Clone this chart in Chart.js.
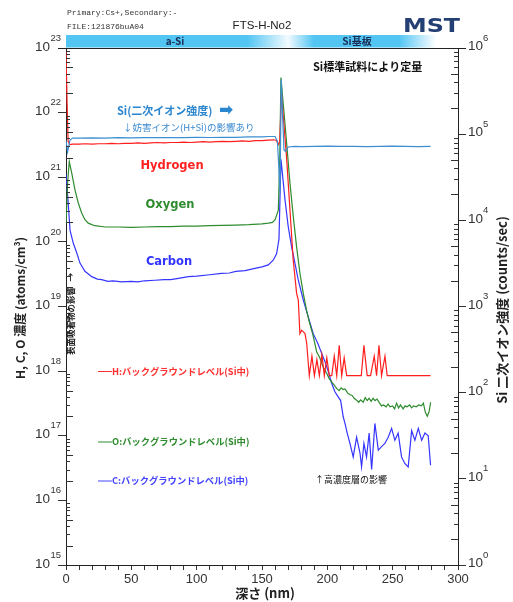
<!DOCTYPE html>
<html><head><meta charset="utf-8">
<script src="https://cdn.jsdelivr.net/npm/chart.js@4/dist/chart.umd.min.js"></script>
<style>html,body{margin:0;padding:0;background:#fff;}canvas{display:block;}</style>
</head><body>
<canvas id="c" width="513" height="602"></canvas>
<script>
// ---------- data (depth in nm, concentration in atoms/cm3, Si in counts/sec) ----------
const hDepth = [0,0.8,1.6,3,5,10,15,20,25,30,35,40,45,50,55,60,65,70,75,80,85,90,95,100,105,110,115,120,125,130,135,140,145,150,155,159,161,162.5,163.6,164.9,
  168.9,171.4,173.9,176.5,177.8,179,180.3,182.9,184.2,186.2,188.2,190.1,192,193.9,195.8,197.7,199.6,201.5,203.4,205.3,207.2,209.1,211,212.9,214.8,218,222,226,228,230.5,233.1,235.9,237.7,239.5,241.5,244.1,245.8,250,260,270,279];
const hConc = [9e22,1.5e22,3.6e21,3.2e21,3.25e21,3.25e21,3.3e21,3.25e21,3.3e21,3.3e21,3.35e21,3.3e21,3.35e21,3.35e21,3.4e21,3.35e21,3.4e21,3.45e21,3.4e21,3.45e21,3.45e21,3.5e21,3.45e21,3.5e21,3.55e21,3.5e21,3.55e21,3.6e21,3.55e21,3.6e21,3.65e21,3.6e21,3.7e21,3.7e21,3.75e21,3.8e21,3.7e21,3.2e21,3.6e21,2.0e22,
  1.9e21,3.1e20,5.2e19,1.6e19,1.25e19,3.8e18,4.3e18,3.8e18,2.7e18,8.5e17,1.7e18,8.5e17,1.5e18,8.5e17,1.8e18,8.5e17,1.6e18,8.5e17,8.5e17,1.7e18,8.5e17,2.5e18,8.5e17,1.6e18,8.5e17,8.5e17,8.5e17,8.5e17,2.5e18,8.5e17,8.5e17,1.7e18,8.5e17,2.5e18,8.5e17,1.7e18,8.5e17,8.5e17,8.5e17,8.5e17,8.5e17];

const oDepth = [0,1.2,2.5,4.4,6.9,9.4,12,14.5,17,22,30,40,50,60,70,80,90,100,110,120,130,140,150,155,158,160,162.5,163.6,164.5,168.9,171.4,173.9,176.5,
  179,181.6,184.2,186.5,189,191.8,194.3,196.9,199.5,201.5,203.3,205,207.1,209,210.5,212,213.5,215.5,217.3,219,220.5,222.4,224,225.5,227.5,229,230.5,232,233.5,235,236.5,238,240,241.5,243,245,246.5,248,250,251.5,253,254.5,256,258,259.5,261,263,264.5,266,268,270,272,273.5,275,276.5,278,279];
const oConc = [1.9e20,8e20,1.75e21,1.16e21,6.3e20,4.0e20,2.8e20,2.2e20,1.95e20,1.78e20,1.7e20,1.7e20,1.68e20,1.7e20,1.72e20,1.72e20,1.75e20,1.75e20,1.78e20,1.8e20,1.82e20,1.85e20,1.9e20,1.95e20,2.0e20,2.2e20,3.1e20,2e21,3.5e22,3.3e21,8.1e20,2.5e20,8.3e19,
  3.3e19,1.6e19,8.5e18,5.5e18,3.6e18,2.0e18,1.6e18,1.15e18,9.3e17,7.6e17,6.8e17,6.2e17,5.4e17,5.0e17,5.5e17,5.2e17,5.3e17,4.6e17,4.3e17,4.2e17,3.8e17,3.55e17,3.3e17,3.6e17,3.3e17,3.9e17,3.5e17,3.8e17,3.4e17,3.8e17,3.5e17,3.7e17,3.2e17,2.9e17,3.0e17,2.8e17,3.1e17,2.8e17,2.9e17,2.6e17,3.2e17,2.7e17,3.0e17,2.6e17,2.9e17,2.8e17,3.0e17,2.7e17,2.9e17,2.8e17,3.0e17,2.9e17,3.2e17,2.3e17,2.0e17,2.4e17,3.3e17];

const cDepth = [0,1.2,3.1,5.6,8.2,10.7,14.5,19.7,24,27.3,32,36,42.6,50,55,60,68,75,80,85,93.6,100,110,119,125,130,137,144.6,150,154.8,158.6,161.2,163,164.5,167.6,
  170.1,172.7,175.2,177.7,181.6,185.4,189.2,193,195.6,198.2,201,203.3,205.8,208.3,210.2,212.2,213.7,215.2,217.3,219.8,222.4,225,226.2,228,230,232,233.9,236.4,239,241.5,244,246.6,249.2,251.7,254.2,256.8,259.4,261.9,264.5,267,269.6,272.2,274.7,277.2,279];
const cConc = [1.1e21,5.5e20,1.5e20,9.5e19,6.8e19,4.7e19,3.5e19,2.9e19,2.65e19,2.6e19,2.45e19,2.5e19,2.4e19,2.45e19,2.4e19,2.5e19,2.55e19,2.6e19,2.6e19,2.7e19,2.9e19,2.95e19,3.1e19,3.25e19,3.3e19,3.5e19,3.6e19,3.9e19,4.1e19,4.4e19,5.2e19,6.6e19,1.1e20,1.9e21,4.5e20,
  1.7e20,8.3e19,4.7e19,2.6e19,1.26e19,6.9e18,3.8e18,2.6e18,1.9e18,1.4e18,9.5e17,6.5e17,4.8e17,4.0e17,3.5e17,1.95e17,1.5e17,1.1e17,7.6e16,4.7e16,9.5e16,5.4e16,3.3e16,7.6e16,4.7e16,1.1e17,3.0e16,1.55e17,6.0e16,6.8e16,7.6e16,9.5e16,1.3e17,8.5e16,1.1e17,4.7e16,3.7e16,3.3e16,1.2e17,8.5e16,1.3e17,8.5e16,1.1e17,1.0e17,3.5e16];

const siDepth = [0,1.2,3,5,10,20,30,40,50,60,70,80,90,100,110,120,130,140,150,155,160,161.8,163,163.8,164.7,166.8,168,170,175,180,190,200,210,220,230,240,250,260,270,279];
const siCps = [8.5e4,6.2e4,8.5e4,9.0e4,9.0e4,9.05e4,9.0e4,9.1e4,9.05e4,9.1e4,9.1e4,9.15e4,9.1e4,9.2e4,9.15e4,9.2e4,9.2e4,9.3e4,9.3e4,9.4e4,9.4e4,8.3e4,3.8e4,2.1e4,4.3e5,6.6e4,6.3e4,7.1e4,7.2e4,7.15e4,7.2e4,7.25e4,7.2e4,7.2e4,7.15e4,7.2e4,7.25e4,7.2e4,7.15e4,7.2e4];

const xTickLabels = ['0','50','100','150','200','250','300'];
const leftExp = [15,16,17,18,19,20,21,22,23];
const rightExp = [0,1,2,3,4,5,6];

// ---------- helpers ----------
const JP = '"Noto Sans CJK JP","Noto Sans",sans-serif';
const SANS = '"Liberation Sans",Arial,sans-serif';
const MONO = '"Liberation Mono","DejaVu Sans Mono",monospace';
function pts(xs, ys){ return xs.map((x,i)=>({x:x, y:ys[i]})); }
function logTicks(exps){
  const t=[];
  for(let i=0;i<exps.length-1;i++){ for(let k=1;k<=9;k++){ t.push({value:Number(k+'e'+exps[i])}); } }
  t.push({value:Number('1e'+exps[exps.length-1])});
  return t;
}
function sig(v){ const e=Math.floor(Math.log10(v)+1e-9); return Math.round(v/Math.pow(10,e)); }
const W=513,H=602,LEFT=66,RIGHT=458,TOP=48,BOTTOM=565;

const decor = {
  id:'decor',
  afterDraw(chart){
    const ctx=chart.ctx, ca=chart.chartArea, yL=chart.scales.y, yR=chart.scales.y2;
    ctx.save();
    ctx.strokeStyle='#222'; ctx.lineWidth=1;
    // top frame
    ctx.beginPath(); ctx.moveTo(ca.left-8, Math.round(ca.top)+0.5); ctx.lineTo(ca.right+8, Math.round(ca.top)+0.5); ctx.stroke();
    // inward minor ticks
    ctx.strokeStyle='#333';
    const minor=(scale,x0,dir)=>{
      scale.ticks.forEach(t=>{
        const k=sig(t.value); if(k===1) return;
        const len=(k===2||k===5)?7:4;
        const p=Math.round(scale.getPixelForValue(t.value))+0.5;
        ctx.beginPath(); ctx.moveTo(x0,p); ctx.lineTo(x0+dir*len,p); ctx.stroke();
      });
    };
    minor(yL, ca.left, 1); minor(yR, ca.right, -1);
    // power-of-ten labels
    ctx.fillStyle='#333'; ctx.textBaseline='middle';
    leftExp.forEach(e=>{
      const p=yL.getPixelForValue(Number('1e'+e));
      ctx.font='13.5px '+SANS; ctx.textAlign='right'; ctx.fillText('10',50,p-1);
      ctx.font='9.5px '+SANS; ctx.textAlign='left'; ctx.fillText(String(e),50.5,p-10);
    });
    rightExp.forEach(e=>{
      const p=yR.getPixelForValue(Number('1e'+e));
      ctx.font='13.5px '+SANS; ctx.textAlign='left'; ctx.fillText('10',468,p-1.5);
      ctx.font='9.5px '+SANS; ctx.fillText(String(e),483,p-10);
    });
    // axis titles
    ctx.fillStyle='#222'; ctx.textAlign='center';
    ctx.save(); ctx.translate(20,308); ctx.rotate(-Math.PI/2);
    ctx.font='bold 12px '+JP; ctx.fillText('H, C, O 濃度 (atoms/cm³)',0,0); ctx.restore();
    ctx.save(); ctx.translate(502,310); ctx.rotate(-Math.PI/2);
    ctx.font='bold 13px '+JP; ctx.fillText('Si 二次イオン強度 (counts/sec)',0,0); ctx.restore();
    ctx.font='bold 13px '+JP; ctx.fillText('深さ (nm)',265,593);
    // header
    ctx.textAlign='left'; ctx.fillStyle='#333';
    ctx.font='8px '+MONO; ctx.fillText('Primary:Cs+,Secondary:-',67,13); ctx.fillText('FILE:121876buA04',67,26.5);
    ctx.textAlign='center'; ctx.font='11.5px '+SANS; ctx.fillStyle='#222'; ctx.fillText('FTS-H-No2',262,26);
    ctx.save(); ctx.translate(403,32); ctx.scale(1.19,1); ctx.textAlign='left'; ctx.textBaseline='alphabetic';
    ctx.font='bold 20px "DejaVu Sans",sans-serif'; ctx.fillStyle='#233f73'; ctx.fillText('MST',0,0); ctx.restore();
    // layer bar
    const g=ctx.createLinearGradient(66,0,436,0);
    g.addColorStop(0,'#52c5f3'); g.addColorStop(0.49,'#52c5f3'); g.addColorStop(0.6,'#f2faff');
    g.addColorStop(0.67,'#52c5f3'); g.addColorStop(0.9,'#52c5f3'); g.addColorStop(1,'#ffffff');
    ctx.fillStyle=g; ctx.fillRect(66,35,370,12.5);
    ctx.fillStyle='#1b2d55'; ctx.font='bold 10px '+JP; ctx.textAlign='center';
    ctx.fillText('a-Si',175,41.5); ctx.fillText('Si基板',357,41.5);
    // annotations
    ctx.textAlign='left';
    ctx.fillStyle='#2a86cf'; ctx.font='bold 11px '+JP; ctx.fillText('Si(二次イオン強度)',117,111);
    ctx.font='bold 17px "DejaVu Sans",sans-serif'; ctx.fillText('➡',219,111);
    ctx.fillStyle='#3a8ad0'; ctx.font='9.5px '+JP; ctx.fillText('↓妨害イオン(H+Si)の影響あり',123,127);
    ctx.fillStyle='#111'; ctx.font='bold 11px '+JP; ctx.fillText('Si標準試料により定量',313,67);
    ctx.textAlign='center'; ctx.font='bold 11.5px "DejaVu Sans",sans-serif';
    ctx.fillStyle='#ff2020'; ctx.fillText('Hydrogen',172,166);
    ctx.fillStyle='#2e8b2e'; ctx.fillText('Oxygen',170,205);
    ctx.fillStyle='#3333ff'; ctx.fillText('Carbon',169,262);
    // background level labels
    const bg=(col,y,txt)=>{
      ctx.strokeStyle=col; ctx.beginPath(); ctx.moveTo(98,y+0.5); ctx.lineTo(112,y+0.5); ctx.stroke();
      ctx.fillStyle=col; ctx.textAlign='left'; ctx.font='bold 9.3px '+JP; ctx.fillText(txt,112,y);
    };
    bg('#ff3030',371,'H:バックグラウンドレベル(Si中)');
    bg('#2e8b2e',441.5,'O:バックグラウンドレベル(Si中)');
    bg('#4444ff',480.5,'C:バックグラウンドレベル(Si中)');
    ctx.fillStyle='#111'; ctx.font='9px '+JP; ctx.textAlign='left'; ctx.fillText('↑高濃度層の影響',315,480);
    // surface adsorbate note
    ctx.fillStyle='#222'; ctx.textAlign='center'; ctx.font='bold 9px '+JP; ctx.fillText('↑',70.5,278);
    ctx.save(); ctx.translate(70.5,321); ctx.rotate(-Math.PI/2); ctx.font='bold 8.5px '+JP;
    ctx.fillText('表面吸着物の影響',0,0); ctx.restore();
    ctx.restore();
  }
};

new Chart(document.getElementById('c').getContext('2d'), {
  type:'line',
  data:{datasets:[
    {label:'Si', data:pts(siDepth,siCps), yAxisID:'y2', borderColor:'#3d8fd1', borderWidth:1.2, pointRadius:0, tension:0},
    {label:'Hydrogen', data:pts(hDepth,hConc), yAxisID:'y', borderColor:'#ff1e1e', borderWidth:1.2, pointRadius:0, tension:0},
    {label:'Oxygen', data:pts(oDepth,oConc), yAxisID:'y', borderColor:'#2e8b2e', borderWidth:1.2, pointRadius:0, tension:0},
    {label:'Carbon', data:pts(cDepth,cConc), yAxisID:'y', borderColor:'#3535ff', borderWidth:1.2, pointRadius:0, tension:0}
  ]},
  options:{
    responsive:false, animation:false, devicePixelRatio:1,
    layout:{padding:{top:TOP,left:0,right:0,bottom:0}},
    plugins:{legend:{display:false}, tooltip:{enabled:false}, title:{display:false}},
    scales:{
      x:{type:'linear', position:'bottom', min:0, max:300,
        afterFit(s){ s.height=H-BOTTOM; },
        ticks:{stepSize:10, autoSkip:false, maxRotation:0, padding:2, color:'#333',
          font:{family:'Liberation Sans', size:13},
          callback:(v)=>{ const s=String(v); return xTickLabels.includes(s)?s:''; }},
        grid:{drawOnChartArea:false, tickLength:5, tickColor:'#333'},
        border:{color:'#222', width:1}},
      y:{type:'logarithmic', position:'left', min:1e15, max:1e23,
        afterFit(s){ s.width=LEFT; },
        afterBuildTicks(s){ s.ticks=logTicks(leftExp); },
        ticks:{display:false},
        grid:{drawOnChartArea:false, tickLength:8, tickColor:(c)=> (c.tick && sig(c.tick.value)===1)?'#333':'rgba(0,0,0,0)'},
        border:{color:'#222', width:1}},
      y2:{type:'logarithmic', position:'right', min:1, max:1e6,
        afterFit(s){ s.width=W-RIGHT; },
        afterBuildTicks(s){ s.ticks=logTicks(rightExp); },
        ticks:{display:false},
        grid:{drawOnChartArea:false, tickLength:8, tickColor:(c)=> (c.tick && sig(c.tick.value)===1)?'#333':'rgba(0,0,0,0)'},
        border:{color:'#222', width:1}}
    }
  },
  plugins:[decor]
});
</script>
</body></html>
